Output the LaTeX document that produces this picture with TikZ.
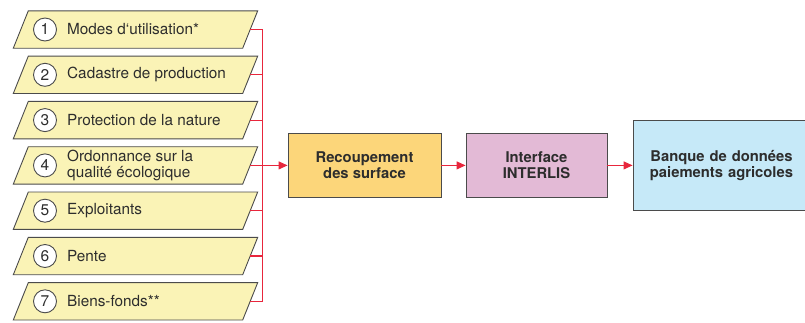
\documentclass[tikz,border=0pt]{standalone}
\usepackage{fontspec}
\setmainfont{TeX Gyre Heros}
\usetikzlibrary{arrows.meta}
\definecolor{pyellow}{RGB}{250,243,182}
\definecolor{porange}{RGB}{252,214,122}
\definecolor{ppink}{RGB}{227,186,214}
\definecolor{pblue}{RGB}{198,233,248}
\definecolor{pred}{RGB}{232,38,60}
\definecolor{pborder}{RGB}{75,75,75}
\definecolor{ptext}{RGB}{45,45,45}
\tikzset{
  parabox/.style={rectangle, minimum width=229pt, minimum height=37pt, inner sep=0pt},
  paraline/.style={draw=pborder, line width=0.9pt, fill=pyellow, line join=miter},
  numc/.style={circle, draw=pborder, line width=0.9pt, fill=white, minimum size=23pt, inner sep=0pt,
    font=\fontsize{15.5}{16}\selectfont, text=ptext},
  lbl/.style={anchor=west, inner sep=0pt, align=left, font=\fontsize{15.3}{16}\selectfont, text=ptext},
  procbox/.style={draw=pborder, line width=0.9pt, align=center, inner sep=0pt,
    font=\fontsize{14.8}{16}\selectfont\bfseries, text=ptext},
  redline/.style={draw=pred, line width=1.1pt},
  redarrow/.style={redline, -{Triangle[length=9pt,width=8pt]}}
}
\begin{document}
\begin{tikzpicture}[x=1pt,y=-1pt]
\useasboundingbox (0,0) rectangle (805,322);
\foreach \i/\t in {1/{Modes d‘utilisation*},2/{Cadastre de production},3/{Protection de la nature},
  4/{Ordonnance sur la\\qualité écologique},5/{Exploitants},6/{Pente},7/{Biens-fonds**}}{
  \node[parabox] (p\i) at (135.5,{29.5+45.3*(\i-1)}) {};
  \path[paraline] ([xshift=7.5pt]p\i.north west) -- ([xshift=7.5pt]p\i.north east)
    -- ([xshift=-7.5pt]p\i.south east) -- ([xshift=-7.5pt]p\i.south west) -- cycle;
  \node[numc] (n\i) at (45,{29.5+45.3*(\i-1)}) {\i};
  \node[lbl] (t\i) at (67,{29.5+45.3*(\i-1)}) {\t};
}
\coordinate (bt) at (262.5,29.5);
\coordinate (bb) at (262.5,301.3);
\coordinate (bm) at (262.5,165.4);
\foreach \i in {1,...,7}{
  \draw[redline] (p\i.east) -- (p\i.east -| bt);
}
\draw[redline] (bt) -- (bb);
\node[procbox, fill=porange, minimum width=153pt, minimum height=64pt] (rec) at (364.5,165.4) {Recoupement\\des surface};
\node[procbox, fill=ppink, minimum width=141pt, minimum height=64pt] (int) at (536.5,165.4) {Interface\\INTERLIS};
\node[procbox, fill=pblue, minimum width=177pt, minimum height=90pt, text width=177pt] (ban) at (721.5,165.4) {Banque de données\\paiements agricoles};
\draw[redarrow] (bm) -- (rec.west);
\draw[redarrow] (rec.east) -- (int.west);
\draw[redarrow] (int.east) -- (ban.west);
\end{tikzpicture}
\end{document}
